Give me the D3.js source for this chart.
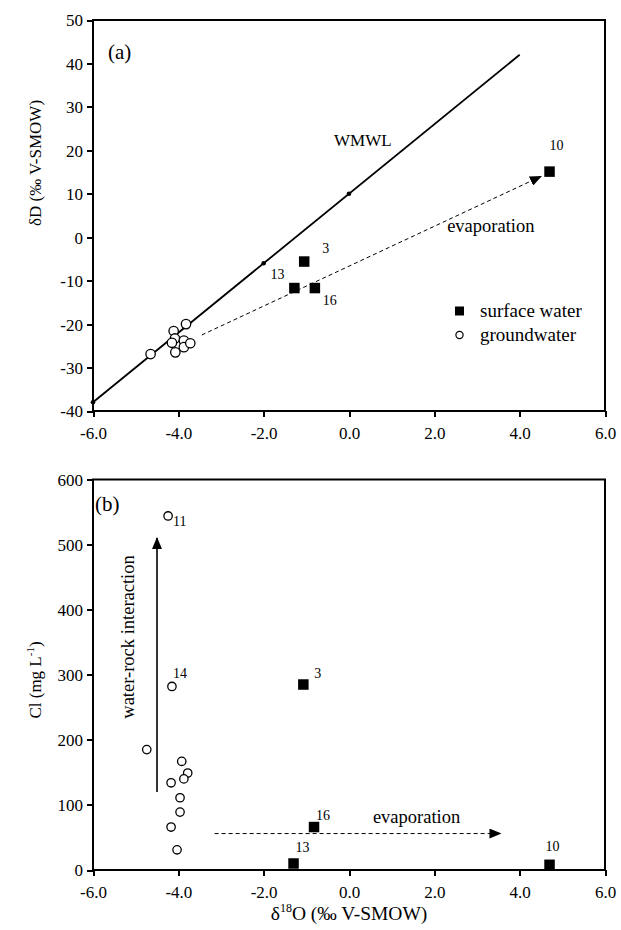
<!DOCTYPE html>
<html>
<head>
<meta charset="utf-8">
<title>isotopes</title>
<script src="https://cdn.jsdelivr.net/npm/d3@7"></script>
<style>
  body { margin: 0; background: #fff; }
  svg { display: block; font-family: "Liberation Serif", "Times New Roman", serif; }
  .axis path, .axis line { stroke: #000; stroke-width: 2px; shape-rendering: crispEdges; }
  .axis text { font-size: 17px; fill: #000; font-family: "Liberation Serif", "Times New Roman", serif; }
  .lbl { font-size: 14px; fill: #000; }
  .title { font-size: 17px; fill: #000; }
  .note { font-size: 18.5px; fill: #000; }
</style>
</head>
<body>
<svg width="621" height="930"></svg>
<script>
// tick values
var oTicks = [-6, -4, -2, 0, 2, 4, 6];
var dTicks = [-40, -30, -20, -10, 0, 10, 20, 30, 40, 50];
var clTicks = [0, 100, 200, 300, 400, 500, 600];

// surface water samples
var swIds = ["3", "10", "13", "16"];
var swO18a = [-1.05, 4.7, -1.28, -0.8];
var swDD = [-5.6, 15.1, -11.7, -11.7];
var swO18b = [-1.07, 4.7, -1.3, -0.82];
var swCl = [285, 8, 10, 66];

// groundwater samples
var gwO18a = [-4.65, -3.82, -4.11, -4.08, -4.15, -4.07, -3.87, -3.87, -3.72];
var gwDD = [-26.9, -20.0, -21.6, -23.3, -24.3, -26.5, -23.8, -25.3, -24.4];
var gwIdsB = ["11", "14", "", "", "", "", "", "", "", "", ""];
var gwO18b = [-4.24, -4.15, -4.74, -3.92, -3.78, -3.87, -4.17, -3.96, -3.96, -4.17, -4.03];
var gwCl = [544, 282, 185, 167, 149, 140, 134, 111, 89, 66, 31];

// world meteoric water line dD = 8*d18O + 10
var wmwlO18 = [-6, -2, 0, 4];
var wmwlDD = [-38, -6, 10, 42];
var wmwlDots = [0, 1, 2];

// evaporation / interaction trends
var evapA = [[-3.45, -22.5], [4.5, 14]];
var evapB = [[-3.15, 56], [3.55, 56]];
var wriB = [[-4.5, 120], [-4.5, 510]];

var svg = d3.select("svg");
var defs = svg.append("defs");
defs.append("marker").attr("id", "arr")
  .attr("viewBox", "0 0 12 10").attr("refX", 11).attr("refY", 5)
  .attr("markerWidth", 12).attr("markerHeight", 10)
  .attr("markerUnits", "userSpaceOnUse").attr("orient", "auto")
  .append("path").attr("d", "M0,0L12,5L0,10Z").attr("fill", "#000");

var left = 93, right = 605;
var x = d3.scaleLinear().domain([-6, 6]).range([left, right]);
var yA = d3.scaleLinear().domain([-40, 50]).range([411, 20]);
var yB = d3.scaleLinear().domain([0, 600]).range([870, 479.5]);

function frame(y, yt) {
  var g = svg.append("g");
  var r = y.range();
  g.append("g").attr("class", "axis")
    .attr("transform", "translate(0," + r[0] + ")")
    .call(d3.axisBottom(x).tickValues(oTicks).tickSize(6).tickPadding(7)
      .tickFormat(function(d) { return d.toFixed(1); }))
    .call(function(a) { a.select(".domain").remove(); a.selectAll("text").attr("dy", "0.9em"); });
  g.append("g").attr("class", "axis")
    .attr("transform", "translate(" + left + ",0)")
    .call(d3.axisLeft(y).tickValues(yt).tickSize(6).tickPadding(4)
      .tickFormat(function(d) { return String(d); }))
    .call(function(a) { a.select(".domain").remove(); a.selectAll("text").attr("dy", "0.35em"); });
  g.append("rect").attr("x", left).attr("y", r[1]).attr("width", right - left).attr("height", r[0] - r[1])
    .attr("fill", "none").attr("stroke", "#000").attr("stroke-width", 2);
}

// ---------- panel (a) ----------
frame(yA, dTicks);

svg.append("line")
  .attr("x1", x(wmwlO18[0])).attr("y1", yA(wmwlDD[0]))
  .attr("x2", x(wmwlO18[3])).attr("y2", yA(wmwlDD[3]))
  .attr("stroke", "#000").attr("stroke-width", 1.8);
svg.selectAll(".wdot").data(wmwlDots).enter().append("circle")
  .attr("cx", function(i) { return x(wmwlO18[i]); })
  .attr("cy", function(i) { return yA(wmwlDD[i]); })
  .attr("r", 2.3).attr("fill", "#000");

svg.append("line")
  .attr("x1", x(evapA[0][0])).attr("y1", yA(evapA[0][1]))
  .attr("x2", x(evapA[1][0])).attr("y2", yA(evapA[1][1]))
  .attr("stroke", "#000").attr("stroke-width", 1).attr("stroke-dasharray", "4,3")
  .attr("marker-end", "url(#arr)");

svg.selectAll(".gwa").data(gwO18a).enter().append("circle")
  .attr("cx", function(d) { return x(d); })
  .attr("cy", function(d, i) { return yA(gwDD[i]); })
  .attr("r", 4.7).attr("fill", "#fff").attr("stroke", "#000").attr("stroke-width", 1.3);

var sqA = 10.5;
svg.selectAll(".swa").data(swO18a).enter().append("rect")
  .attr("x", function(d) { return x(d) - sqA / 2; })
  .attr("y", function(d, i) { return yA(swDD[i]) - sqA / 2; })
  .attr("width", sqA).attr("height", sqA).attr("fill", "#000");

var offA = [[18, -9], [0, -22], [-24, -9], [8, 17]];
svg.selectAll(".swla").data(swO18a).enter().append("text").attr("class", "lbl")
  .attr("x", function(d, i) { return x(d) + offA[i][0]; })
  .attr("y", function(d, i) { return yA(swDD[i]) + offA[i][1]; })
  .text(function(d, i) { return swIds[i]; });

svg.append("text").attr("class", "title").attr("x", 334).attr("y", 146).text("WMWL");
svg.append("text").attr("class", "note").attr("x", x(2.3)).attr("y", yA(1.2)).text("evaporation");
svg.append("text").attr("x", 108).attr("y", 59).style("font-size", "21px").text("(a)");

// legend
svg.append("rect").attr("x", 455).attr("y", 306.5).attr("width", 9).attr("height", 9).attr("fill", "#000");
svg.append("text").attr("class", "note").style("font-size", "19px").attr("x", 480).attr("y", 317).text("surface water");
svg.append("circle").attr("cx", 459.5).attr("cy", 335).attr("r", 3.6)
  .attr("fill", "#fff").attr("stroke", "#000").attr("stroke-width", 1.2);
svg.append("text").attr("class", "note").style("font-size", "19px").attr("x", 480).attr("y", 341).text("groundwater");

svg.append("text").attr("class", "title")
  .attr("transform", "translate(41," + 163 + ") rotate(-90)")
  .attr("text-anchor", "middle").text("\u03b4D (\u2030 V-SMOW)");

// ---------- panel (b) ----------
frame(yB, clTicks);

svg.append("line")
  .attr("x1", x(wriB[0][0])).attr("y1", yB(wriB[0][1]))
  .attr("x2", x(wriB[1][0])).attr("y2", yB(wriB[1][1]))
  .attr("stroke", "#000").attr("stroke-width", 1.6).attr("marker-end", "url(#arr)");
svg.append("line")
  .attr("x1", x(evapB[0][0])).attr("y1", yB(evapB[0][1]))
  .attr("x2", x(evapB[1][0])).attr("y2", yB(evapB[1][1]))
  .attr("stroke", "#000").attr("stroke-width", 1).attr("stroke-dasharray", "4,3")
  .attr("marker-end", "url(#arr)");

svg.selectAll(".gwb").data(gwO18b).enter().append("circle")
  .attr("cx", function(d) { return x(d); })
  .attr("cy", function(d, i) { return yB(gwCl[i]); })
  .attr("r", 4.2).attr("fill", "#fff").attr("stroke", "#000").attr("stroke-width", 1.3);

var offGw = [[5, 10], [1, -8]];
svg.selectAll(".gwlb").data(gwO18b.slice(0, 2)).enter().append("text").attr("class", "lbl")
  .attr("x", function(d, i) { return x(d) + offGw[i][0]; })
  .attr("y", function(d, i) { return yB(gwCl[i]) + offGw[i][1]; })
  .text(function(d, i) { return gwIdsB[i]; });

svg.selectAll(".swb").data(swO18b).enter().append("rect")
  .attr("x", function(d) { return x(d) - sqA / 2; })
  .attr("y", function(d, i) { return yB(swCl[i]) - sqA / 2; })
  .attr("width", sqA).attr("height", sqA).attr("fill", "#000");

var offB = [[11, -7], [-4, -14], [2, -11], [2, -7]];
svg.selectAll(".swlb").data(swO18b).enter().append("text").attr("class", "lbl")
  .attr("x", function(d, i) { return x(d) + offB[i][0]; })
  .attr("y", function(d, i) { return yB(swCl[i]) + offB[i][1]; })
  .text(function(d, i) { return swIds[i]; });

svg.append("text").attr("class", "note").attr("x", x(0.56)).attr("y", yB(71.7)).text("evaporation");
svg.append("text").attr("class", "note")
  .attr("transform", "translate(" + 134 + "," + 637 + ") rotate(-90)")
  .attr("text-anchor", "middle").text("water-rock interaction");
svg.append("text").attr("x", 95).attr("y", 511).style("font-size", "21px").text("(b)");

var ty = svg.append("text").attr("class", "title")
  .attr("transform", "translate(41," + 680 + ") rotate(-90)")
  .attr("text-anchor", "middle");
ty.append("tspan").text("Cl (mg L");
ty.append("tspan").attr("dy", -7).style("font-size", "11px").text("-1");
ty.append("tspan").attr("dy", 7).text(")");

var tx = svg.append("text").attr("class", "title").style("font-size", "19.5px")
  .attr("x", 349).attr("y", 920).attr("text-anchor", "middle");
tx.append("tspan").text("\u03b4");
tx.append("tspan").attr("dy", -8).style("font-size", "12px").text("18");
tx.append("tspan").attr("dy", 8).text("O (\u2030 V-SMOW)");
</script>
</body>
</html>
